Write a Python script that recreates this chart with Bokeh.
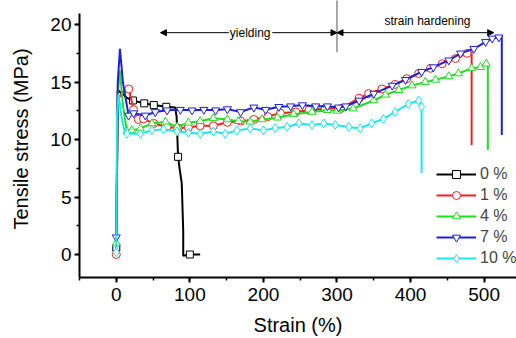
from bokeh.plotting import figure
from bokeh.models import Range1d, SingleIntervalTicker, Legend, LegendItem, Arrow, NormalHead, Label
from bokeh.embed import file_html
from bokeh.resources import INLINE

# ---- data (strain %, tensile stress MPa) ----
labels = ["0 %", "1 %", "4 %", "7 %", "10 %"]
colors = ["#000000", "#ee2222", "#22dd22", "#1f1fd8", "#1ee6f0"]
markers = ["square", "circle", "triangle", "inverted_triangle", "diamond"]

x0 = [0, 2, 8, 15, 22.6, 38, 51, 68, 80, 82, 84, 86, 89, 91, 91, 100, 114]
y0 = [0.6, 14.3, 14.0, 13.6, 13.4, 13.15, 13.0, 12.85, 12.8, 12.0, 8.5, 7.5, 6.2, 2.0, -0.1, 0.0, 0.0]
m0 = [0, 4, 5, 6, 7, 10, 15]

x1 = [0, 2, 10, 17, 23.5, 30, 37, 51, 69, 84, 98, 114, 132, 151, 169, 187, 206, 223, 244, 262, 284, 305,
      330, 343, 361, 379, 395, 411, 427, 443, 461, 477, 483, 483]
y1 = [0.0, 13.5, 14.2, 14.4, 12.6, 11.75, 11.8, 11.4, 11.1, 11.0, 11.05, 11.2, 11.2, 11.5, 11.6, 11.75, 12.0,
      12.3, 12.4, 12.55, 12.7, 12.7, 13.6, 14.0, 14.4, 14.8, 15.3, 15.75, 16.2, 16.6, 17.05, 17.5, 17.6, 9.5]
m1 = [0] + list(range(3, 32))

x4 = [0, 2, 5, 9, 14.5, 21, 32.7, 48.5, 66.7, 82.6, 98, 114, 132, 151, 166, 182, 198, 219, 241, 266, 287,
      300, 322, 350, 366, 384, 402, 420, 434, 452, 465, 483, 495, 503, 505, 505]
y4 = [1.0, 14.0, 16.0, 13.0, 10.7, 10.8, 10.97, 11.4, 11.55, 11.1, 11.46, 11.6, 11.85, 11.75, 11.6, 11.55,
      11.75, 11.9, 12.2, 12.4, 12.55, 12.5, 12.7, 13.4, 13.9, 14.3, 14.7, 15.0, 15.2, 15.5, 15.75, 16.2,
      16.3, 16.6, 16.5, 9.1]
m4 = [0] + list(range(4, 34))

x7 = [0, 2, 5, 9, 16.7, 23.5, 39.5, 53, 69, 87, 103, 119, 135, 151, 169, 187, 203, 221, 237, 253, 271, 287,
      302, 312, 330, 350, 375, 393, 415, 431, 452, 468, 486, 502, 511, 520, 524, 524]
y7 = [1.5, 15.0, 17.9, 15.0, 12.1, 12.3, 12.1, 12.4, 12.55, 12.6, 12.55, 12.6, 12.55, 12.65, 12.4, 12.8,
      12.6, 12.85, 12.9, 13.0, 12.9, 12.9, 12.8, 12.9, 13.4, 14.0, 14.7, 15.2, 15.9, 16.3, 16.9, 17.5, 17.9,
      18.5, 18.8, 18.9, 19.0, 10.4]
m7 = [0] + list(range(4, 36))

x10 = [0, 1, 3, 7, 12, 14.5, 32.7, 48.5, 64, 82.5, 98, 114, 132, 148, 164, 182, 200, 216, 232, 248, 266,
       282, 297.5, 316, 331.5, 347, 363, 379, 397, 411, 415, 415]
y10 = [0.2, 12.0, 14.0, 12.0, 10.5, 10.5, 10.5, 10.8, 10.9, 10.7, 10.6, 10.5, 10.7, 10.5, 10.8, 10.97, 10.8,
       11.0, 11.1, 11.4, 11.26, 11.4, 11.26, 11.1, 10.97, 11.4, 11.8, 12.4, 13.1, 13.4, 12.85, 7.1]
m10 = [0] + list(range(5, 31))

# annotation values (strain %)
yield_start = 60
phase_boundary = 300
hardening_end = 513
arrow_level = 19.3
yield_text_x = 182
yield_gap = (153, 212)
hard_text_x = 423
hard_text_y = 20.35
boundary_span = (17.6, 22.5)

series = [(x0, y0, m0), (x1, y1, m1), (x4, y4, m4), (x7, y7, m7), (x10, y10, m10)]
msizes = [7, 8, 8, 8, 9]

FONT = "Liberation Sans"

p = figure(width=516, height=338, output_backend="svg", toolbar_location=None,
           x_range=Range1d(-50, 544), y_range=Range1d(-2, 22.1),
           min_border_left=79, min_border_right=0, min_border_top=0, min_border_bottom=61)
p.outline_line_color = None
p.xgrid.visible = False
p.ygrid.visible = False
p.background_fill_color = "white"
p.border_fill_color = "white"

for ax in (p.xaxis[0], p.yaxis[0]):
    ax.axis_line_width = 2
    ax.major_tick_line_width = 2
    ax.minor_tick_line_width = 1.5
    ax.major_tick_out = 5
    ax.major_tick_in = 0
    ax.minor_tick_out = 3
    ax.minor_tick_in = 0
    ax.major_label_text_font = FONT
    ax.major_label_text_font_size = "19px"
    ax.major_label_text_color = "black"
    ax.axis_label_text_font = FONT
    ax.axis_label_text_font_size = "20px"
    ax.axis_label_text_font_style = "normal"
    ax.axis_label_text_color = "black"

p.xaxis[0].ticker = SingleIntervalTicker(interval=100, num_minor_ticks=2)
p.yaxis[0].ticker = SingleIntervalTicker(interval=5, num_minor_ticks=2)
p.yaxis[0].bounds = (-2, 21)
p.xaxis[0].axis_label = "Strain (%)"
p.yaxis[0].axis_label = "Tensile stress (MPa)"
p.xaxis[0].major_label_standoff = 5
p.xaxis[0].axis_label_standoff = 10
p.yaxis[0].major_label_standoff = 3
p.yaxis[0].axis_label_standoff = 15

items = []
for (xs, ys, mi), c, mk, ms, lab in zip(series, colors, markers, msizes, labels):
    ln = p.line(xs, ys, line_color=c, line_width=2)
    mx = [xs[i] for i in mi]
    my = [ys[i] for i in mi]
    sc = p.scatter(mx, my, marker=mk, size=ms, line_color=c, fill_color="white", line_width=1)
    items.append(LegendItem(label=lab, renderers=[ln, sc]))

legend = Legend(items=items, location=(357, 9), glyph_width=40, glyph_height=20, label_height=20,
                label_standoff=4, spacing=1, padding=0, margin=0,
                label_text_font=FONT, label_text_font_size="16px",
                border_line_alpha=0, background_fill_alpha=0)
p.add_layout(legend)

# annotations
head = lambda: NormalHead(size=6, fill_color="black", line_color="black", line_width=1)
p.add_layout(Arrow(end=head(), x_start=yield_gap[0], y_start=arrow_level, x_end=yield_start, y_end=arrow_level,
                   line_width=1, line_color="black"))
p.add_layout(Arrow(end=head(), x_start=yield_gap[1], y_start=arrow_level, x_end=phase_boundary, y_end=arrow_level,
                   line_width=1, line_color="black"))
p.add_layout(Arrow(start=head(), end=head(), x_start=phase_boundary, y_start=arrow_level, x_end=hardening_end,
                   y_end=arrow_level, line_width=1, line_color="black"))
p.segment(x0=[phase_boundary], y0=[boundary_span[0]], x1=[phase_boundary], y1=[boundary_span[1]],
          line_color="#555555", line_width=1)
p.add_layout(Label(x=yield_text_x, y=arrow_level, text="yielding", text_align="center", text_baseline="middle",
                   text_font=FONT, text_font_size="12px", text_color="black"))
p.add_layout(Label(x=hard_text_x, y=hard_text_y, text="strain hardening", text_align="center",
                   text_baseline="middle", text_font=FONT, text_font_size="12px", text_color="black"))

open("out.html", "w").write(file_html(p, INLINE))
